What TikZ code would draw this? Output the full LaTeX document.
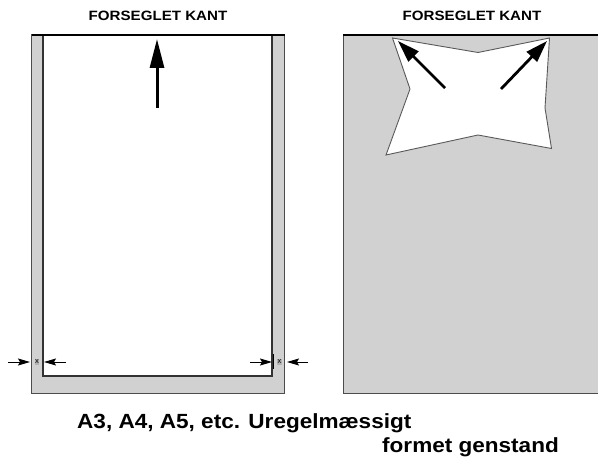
\documentclass[tikz,border=0pt]{standalone}
\usepackage{fontspec}
\setmainfont{Liberation Sans}
\usetikzlibrary{arrows.meta}
\tikzset{
  panel/.style={fill=black!18, draw=black!70, line width=1bp},
  sealed/.style={line width=2.2bp, draw=black},
  bigarrow/.style={line width=3bp, -{Triangle[length=29bp,width=14bp]}},
  diagarrow/.style={line width=2.8bp, -{Triangle[length=22bp,width=14bp]}},
  dimarrow/.style={line width=1bp, -{Stealth[length=12bp,width=7bp,inset=2bp]}},
  title/.style={font=\bfseries\fontsize{13.5bp}{15bp}\selectfont, inner sep=0pt},
  caption/.style={font=\bfseries\fontsize{20.5bp}{24bp}\selectfont, inner sep=0pt, anchor=base west},
  xlab/.style={font=\fontsize{7.5bp}{8bp}\selectfont, inner sep=0.6bp, fill=black!30, text=black}
}
\begin{document}
\begin{tikzpicture}[x=1bp,y=-1bp]
\useasboundingbox (0,0) rectangle (598,459);
% titles
\node[title] (t1) at (158,16) {\scalebox{1.12}[1]{FORSEGLET KANT}};
\node[title] (t2) at (472,16) {\scalebox{1.12}[1]{FORSEGLET KANT}};
% left panel
\draw[panel] (31.5,35) rectangle (284.5,393);
\fill[white] (43,35) rectangle (272,376);
\draw[black!80, line width=1.2bp] (43,35) -- (43,376) -- (272,376) -- (272,35);
\draw[sealed] (31.5,35) -- (284.5,35);
\coordinate (ua) at (157,108);
\coordinate (ub) at (157,39);
\draw[bigarrow] (ua) -- (ub);
% dimension marks left
\node[xlab] (x1) at (37,362) {x};
\coordinate (l1a) at (8,362);
\coordinate (l1b) at (30,362);
\coordinate (l2a) at (66,362);
\coordinate (l2b) at (44,362);
\draw[dimarrow] (l1a) -- (l1b);
\draw[dimarrow] (l2a) -- (l2b);
% dimension marks right
\node[xlab] (x2) at (279.5,362) {x};
\coordinate (r1a) at (250,362);
\coordinate (r1b) at (272,362);
\coordinate (r2a) at (308,362);
\coordinate (r2b) at (287,362);
\draw[dimarrow] (r1a) -- (r1b);
\draw[dimarrow] (r2a) -- (r2b);
\draw[line width=1.6bp] (273.5,354) -- (273.5,369);
% right panel
\draw[panel] (343,35) rectangle (603,393);
\draw[sealed] (343,35) -- (598,35);
\draw[fill=white, draw=black!65, line width=0.9bp]
  (392.5,38) -- (478,52.5) -- (549.5,38) -- (545,108) -- (551.5,148.5)
  -- (478,135) -- (386,155) -- (410,89) -- cycle;
\coordinate (da) at (445,88);
\coordinate (db) at (398,41);
\coordinate (dc) at (501,89);
\coordinate (dd) at (547,41);
\draw[diagarrow] (da) -- (db);
\draw[diagarrow] (dc) -- (dd);
% captions
\node[caption] (c1) at (77,428) {\scalebox{1.1}[1]{A3, A4, A5, etc. Uregelmæssigt}};
\node[caption] (c2) at (382,452) {\scalebox{1.1}[1]{formet genstand}};
\end{tikzpicture}
\end{document}
